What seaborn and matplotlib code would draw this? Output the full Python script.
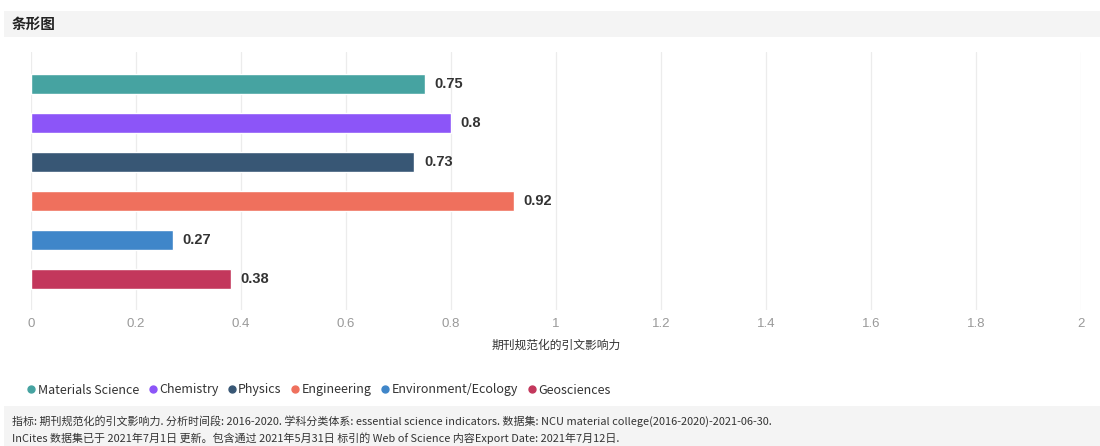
import matplotlib
matplotlib.use("Agg")
import matplotlib.pyplot as plt
from matplotlib.lines import Line2D
from matplotlib.patches import Rectangle
import seaborn as sns
import pandas as pd

categories = ["Materials Science", "Chemistry", "Physics", "Engineering",
              "Environment/Ecology", "Geosciences"]
values = [0.75, 0.8, 0.73, 0.92, 0.27, 0.38]
colors = ["#46a3a1", "#8c55f8", "#385775", "#ef705d", "#3f86c9", "#c3375c"]
xticks = [0, 0.2, 0.4, 0.6, 0.8, 1, 1.2, 1.4, 1.6, 1.8, 2]
xtick_labels = ["0", "0.2", "0.4", "0.6", "0.8", "1", "1.2", "1.4", "1.6", "1.8", "2"]
title = "条形图"
xlabel = "期刊规范化的引文影响力"
footer = ["指标: 期刊规范化的引文影响力. 分析时间段: 2016-2020. 学科分类体系: essential science indicators. 数据集: NCU material college(2016-2020)-2021-06-30.",
          "InCites 数据集已于 2021年7月1日 更新。包含通过 2021年5月31日 标引的 Web of Science 内容Export Date: 2021年7月12日."]

sns.set_theme(style="white")
plt.rcParams["font.family"] = ["Noto Sans CJK SC", "DejaVu Sans"]

W, H = 1100, 446
fig = plt.figure(figsize=(W / 100, H / 100), dpi=100)
fig.patch.set_facecolor("white")

# header and footer bands
fig.patches.append(Rectangle((4 / W, 1 - 37 / H), 1, 26 / H, transform=fig.transFigure,
                             facecolor="#f4f4f4", edgecolor="none", zorder=0))
fig.patches.append(Rectangle((4 / W, 0), 1, 40 / H, transform=fig.transFigure,
                             facecolor="#f4f4f4", edgecolor="none", zorder=0))
fig.text(12 / W, 1 - 24 / H, title, fontsize=10.5, fontweight="bold", color="#222222",
         va="center", ha="left")
fig.text(12 / W, 1 - 421 / H, footer[0], fontsize=7.9, color="#333333", va="center", ha="left")
fig.text(12 / W, 1 - 438 / H, footer[1], fontsize=7.9, color="#333333", va="center", ha="left")

ax = fig.add_axes([31 / W, 1 - 310 / H, 1050 / W, 258 / H])
df = pd.DataFrame({"category": categories, "value": values})
sns.barplot(data=df, x="value", y="category", hue="category", order=categories,
            hue_order=categories, palette=colors, width=0.5, legend=False,
            saturation=1, ax=ax, orient="h")

ax.set_xlim(0, 2)
ax.set_ylim(5.795, -0.82)
ax.set_xticks(xticks)
ax.set_xticklabels(xtick_labels, family=["Liberation Sans Narrow", "Liberation Sans"])
ax.set_yticks([])
ax.set_ylabel("")
ax.set_xlabel(xlabel, fontsize=8.5, color="#333333", labelpad=6)
ax.tick_params(axis="x", length=0, labelsize=9.5, labelcolor="#999999", pad=6)
for s in ax.spines.values():
    s.set_visible(False)
ax.grid(axis="x", color="#ececec", linewidth=0.9)
ax.set_axisbelow(True)

for i, v in enumerate(values):
    ax.annotate(f"{v:g}", xy=(v, i), xytext=(7, 0), textcoords="offset points",
                va="center", ha="left", fontsize=10.5, fontweight="bold", color="#333333",
                family=["Liberation Sans"])

handles = [Line2D([], [], marker="o", linestyle="none", markersize=5,
                  markerfacecolor=c, markeredgecolor=c) for c in colors]
fig.legend(handles, categories, loc="center left", bbox_to_anchor=(20 / W, 1 - 390 / H),
           ncol=6, frameon=False, fontsize=9, handletextpad=0.0, columnspacing=0.6,
           handlelength=1.0, borderaxespad=0, labelcolor="#333333")

fig.savefig("out.png", dpi=100)
